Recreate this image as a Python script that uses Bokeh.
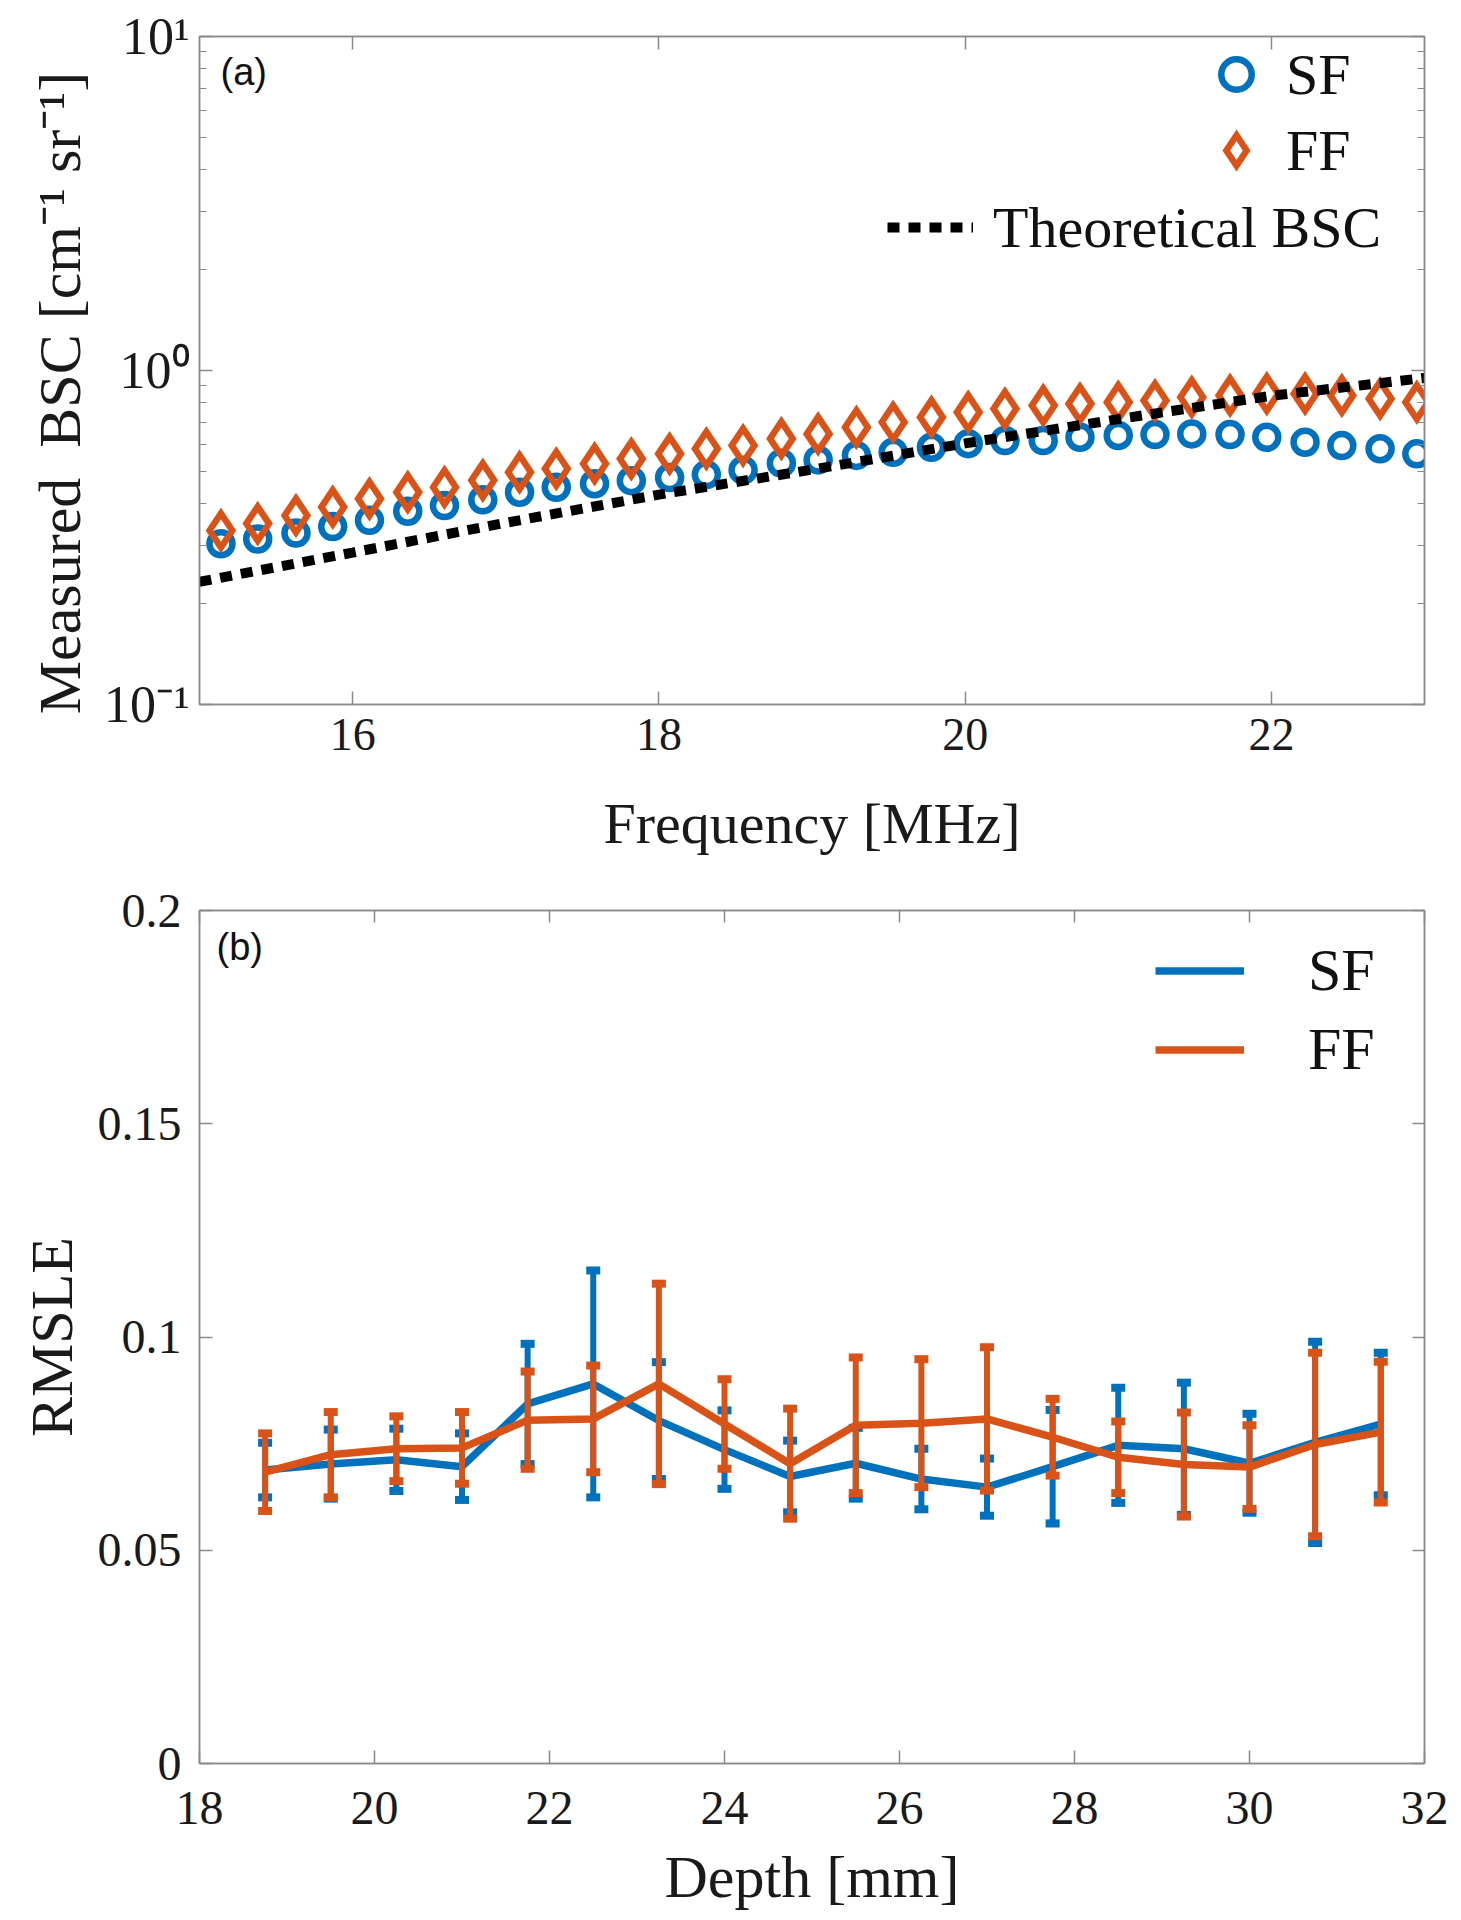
from bokeh.plotting import figure
from bokeh.layouts import column
from bokeh.models import (FixedTicker, LinearAxis, LogAxis, Legend, LegendItem, Label,
                          CustomJSTickFormatter)
from bokeh.embed import file_html
from bokeh.resources import INLINE

# ---------------- data: panel (a) ----------------
freq_mhz = [15.14, 15.38, 15.63, 15.87, 16.11, 16.36, 16.60, 16.85, 17.09, 17.33, 17.58,
            17.82, 18.07, 18.31, 18.55, 18.80, 19.04, 19.29, 19.53, 19.78, 20.02, 20.26,
            20.51, 20.75, 21.00, 21.24, 21.48, 21.73, 21.97, 22.22, 22.46, 22.71, 22.95]
sf_bsc = [0.303, 0.313, 0.326, 0.341, 0.356, 0.379, 0.394, 0.410, 0.432, 0.447, 0.458,
          0.468, 0.478, 0.488, 0.503, 0.528, 0.540, 0.557, 0.569, 0.589, 0.604, 0.617,
          0.617, 0.631, 0.639, 0.643, 0.646, 0.643, 0.631, 0.610, 0.596, 0.583, 0.563]
ff_bsc = [0.332, 0.348, 0.368, 0.390, 0.413, 0.432, 0.447, 0.469, 0.496, 0.508, 0.526,
          0.544, 0.563, 0.583, 0.596, 0.625, 0.646, 0.676, 0.700, 0.725, 0.750, 0.768,
          0.786, 0.795, 0.804, 0.813, 0.832, 0.842, 0.852, 0.852, 0.842, 0.823, 0.804]
theory_freq = [15.0, 16.0, 17.0, 18.0, 19.0, 20.0, 21.0, 22.0, 23.0]
theory_bsc = [0.233, 0.285, 0.350, 0.425, 0.505, 0.605, 0.715, 0.840, 0.950]
freq_ticks = [16, 18, 20, 22]
bsc_ticks = [0.1, 1, 10]
bsc_minor_ticks = [0.2, 0.3, 0.4, 0.5, 0.6, 0.7, 0.8, 0.9, 2, 3, 4, 5, 6, 7, 8, 9]

# ---------------- data: panel (b) ----------------
depth_mm = [18.75, 19.5, 20.25, 21.0, 21.75, 22.5, 23.25, 24.0, 24.75, 25.5, 26.25,
            27.0, 27.75, 28.5, 29.25, 30.0, 30.75, 31.5]
sf_rmsle = [0.0688, 0.0702, 0.0712, 0.0696, 0.0843, 0.0890, 0.0804, 0.0736, 0.0673,
            0.0704, 0.0667, 0.0648, 0.0696, 0.0746, 0.0738, 0.0704, 0.0753, 0.0796]
sf_rmsle_err = [0.0064, 0.0081, 0.0073, 0.0078, 0.0141, 0.0266, 0.0137, 0.0092, 0.0084,
                0.0083, 0.0071, 0.0067, 0.0133, 0.0135, 0.0155, 0.0116, 0.0236, 0.0167]
ff_rmsle = [0.0683, 0.0724, 0.0738, 0.0740, 0.0805, 0.0808, 0.0890, 0.0796, 0.0703,
            0.0793, 0.0798, 0.0808, 0.0765, 0.0718, 0.0701, 0.0695, 0.0748, 0.0777]
ff_rmsle_err = [0.0091, 0.0100, 0.0076, 0.0084, 0.0114, 0.0125, 0.0235, 0.0105, 0.0129,
                0.0159, 0.0150, 0.0168, 0.0090, 0.0084, 0.0122, 0.0098, 0.0215, 0.0165]
depth_ticks = [18, 20, 22, 24, 26, 28, 30, 32]
rmsle_ticks = [0, 0.05, 0.1, 0.15, 0.2]

BLUE = "#0072BD"
ORANGE = "#D95319"
AXIS_GRAY = "#8a8a8a"
SERIF = "Liberation Serif"
SANS = "Liberation Sans"

blank_fmt = CustomJSTickFormatter(code="return '';")


def style_axis(ax, tick_size, label_size, labels=True, minor=False, tick_len=13):
    ax.axis_line_color = AXIS_GRAY
    ax.axis_line_width = 1.5
    ax.major_tick_line_color = AXIS_GRAY
    ax.major_tick_line_width = 1.5
    ax.major_tick_in = tick_len
    ax.major_tick_out = 0
    if minor:
        ax.minor_tick_line_color = AXIS_GRAY
        ax.minor_tick_line_width = 1.2
        ax.minor_tick_in = 7
        ax.minor_tick_out = 0
    else:
        ax.minor_tick_line_color = None
    ax.major_label_text_font = SERIF
    ax.major_label_text_color = "#1a1a1a"
    ax.major_label_text_line_height = 1.0
    ax.axis_label_text_font = SERIF
    ax.axis_label_text_font_style = "normal"
    ax.axis_label_text_color = "#1a1a1a"
    ax.axis_label_text_line_height = 1.0
    if labels:
        ax.major_label_text_font_size = f"{tick_size}px"
        ax.axis_label_text_font_size = f"{label_size}px"
    else:
        ax.formatter = blank_fmt
        ax.major_label_text_font_size = "1px"
        ax.major_label_standoff = 0


log_fmt = CustomJSTickFormatter(code="""
const m = {"0.1": "10\u207b\u00b9", "1": "10\u2070", "10": "10\u00b9"};
const k = String(tick);
return (k in m) ? m[k] : "";
""")
plain_fmt = CustomJSTickFormatter(code="return String(tick);")

# ---------------- panel (a) ----------------
p1 = figure(width=1461, height=861, x_range=(15, 23), y_range=(0.1, 10), y_axis_type="log",
            output_backend="svg", toolbar_location=None,
            min_border_left=195, min_border_right=29, min_border_top=36, min_border_bottom=157)
p1.xgrid.visible = False
p1.ygrid.visible = False
p1.outline_line_color = AXIS_GRAY
p1.outline_line_width = 1.5
p1.background_fill_color = "white"
p1.border_fill_color = "white"

p1.xaxis.ticker = FixedTicker(ticks=freq_ticks)
p1.xaxis.axis_label = "Frequency [MHz]"
p1.xaxis.major_label_standoff = 14
p1.xaxis.axis_label_standoff = 38
style_axis(p1.xaxis[0], 46, 58)
p1.yaxis.ticker = FixedTicker(ticks=bsc_ticks, minor_ticks=bsc_minor_ticks)
p1.yaxis.formatter = log_fmt
p1.yaxis.axis_label = "Measured\u00a0\u00a0BSC [cm\u207b\u00b9\u00a0sr\u207b\u00b9]\u00a0\u00a0\u00a0"
p1.yaxis.major_label_standoff = 10
p1.yaxis.axis_label_standoff = 8
style_axis(p1.yaxis[0], 52, 60, minor=True)

top1 = LinearAxis(ticker=FixedTicker(ticks=freq_ticks))
style_axis(top1, 44, 58, labels=False)
p1.add_layout(top1, "above")
right1 = LogAxis(ticker=FixedTicker(ticks=bsc_ticks, minor_ticks=bsc_minor_ticks))
style_axis(right1, 44, 58, labels=False, minor=True)
p1.add_layout(right1, "right")

r_sf = p1.scatter(freq_mhz, sf_bsc, marker="circle", size=23, line_width=6.5,
                  line_color=BLUE, fill_color=None)
r_ff = p1.scatter(freq_mhz, ff_bsc, marker="diamond", size=34, line_width=6.5,
                  line_join="miter", line_color=ORANGE, fill_color=None)
r_th = p1.line(theory_freq, theory_bsc, line_color="black", line_width=10, line_dash="12 9")

leg1 = Legend(items=[LegendItem(label="SF", renderers=[r_sf]),
                     LegendItem(label="FF", renderers=[r_ff])],
              location=(998, 516), orientation="vertical",
              glyph_width=78, glyph_height=76, label_height=76, spacing=0, padding=0,
              label_standoff=11, border_line_color=None, background_fill_alpha=0,
              label_text_font=SERIF, label_text_font_size="58px", label_text_color="#111111")
leg2 = Legend(items=[LegendItem(label="Theoretical BSC", renderers=[r_th])],
              location=(688, 439), orientation="vertical",
              glyph_width=86, glyph_height=76, label_height=76, spacing=0, padding=0,
              label_standoff=20, border_line_color=None, background_fill_alpha=0,
              label_text_font=SERIF, label_text_font_size="58px", label_text_color="#111111")
p1.add_layout(leg1, "center")
p1.add_layout(leg2, "center")
p1.add_layout(Label(x=21, y=654, x_units="screen", y_units="screen", text="(a)",
                    text_font=SANS, text_font_size="38px", text_color="#111111",
                    text_baseline="top", text_align="left"))

# ---------------- panel (b) ----------------
p2 = figure(width=1461, height=1059, x_range=(18, 32), y_range=(0, 0.2),
            output_backend="svg", toolbar_location=None,
            min_border_left=199, min_border_right=37, min_border_top=49, min_border_bottom=157)
p2.xgrid.visible = False
p2.ygrid.visible = False
p2.outline_line_color = AXIS_GRAY
p2.outline_line_width = 1.5
p2.background_fill_color = "white"
p2.border_fill_color = "white"

p2.xaxis.ticker = FixedTicker(ticks=depth_ticks)
p2.xaxis.formatter = plain_fmt
p2.xaxis.axis_label = "Depth [mm]"
p2.xaxis.major_label_standoff = 28
p2.xaxis.axis_label_standoff = 17
style_axis(p2.xaxis[0], 48, 60)
p2.yaxis.ticker = FixedTicker(ticks=rmsle_ticks)
p2.yaxis.formatter = plain_fmt
p2.yaxis.axis_label = "RMSLE"
p2.yaxis.major_label_standoff = 18
p2.yaxis.axis_label_standoff = 10
style_axis(p2.yaxis[0], 48, 60)

top2 = LinearAxis(ticker=FixedTicker(ticks=depth_ticks))
style_axis(top2, 48, 60, labels=False, tick_len=12)
p2.add_layout(top2, "above")
right2 = LinearAxis(ticker=FixedTicker(ticks=rmsle_ticks))
style_axis(right2, 48, 60, labels=False, tick_len=12)
p2.add_layout(right2, "right")

sf_up = [m + e for m, e in zip(sf_rmsle, sf_rmsle_err)]
sf_lo = [m - e for m, e in zip(sf_rmsle, sf_rmsle_err)]
ff_up = [m + e for m, e in zip(ff_rmsle, ff_rmsle_err)]
ff_lo = [m - e for m, e in zip(ff_rmsle, ff_rmsle_err)]

p2.segment(depth_mm, sf_lo, depth_mm, sf_up, line_color=BLUE, line_width=6)
p2.rect(depth_mm, sf_up, width=14, height=8, width_units="screen", height_units="screen",
        fill_color=BLUE, line_color=None)
p2.rect(depth_mm, sf_lo, width=14, height=8, width_units="screen", height_units="screen",
        fill_color=BLUE, line_color=None)
l_sf = p2.line(depth_mm, sf_rmsle, line_color=BLUE, line_width=7.5)

p2.segment(depth_mm, ff_lo, depth_mm, ff_up, line_color=ORANGE, line_width=6)
p2.rect(depth_mm, ff_up, width=14, height=8, width_units="screen", height_units="screen",
        fill_color=ORANGE, line_color=None)
p2.rect(depth_mm, ff_lo, width=14, height=8, width_units="screen", height_units="screen",
        fill_color=ORANGE, line_color=None)
l_ff = p2.line(depth_mm, ff_rmsle, line_color=ORANGE, line_width=7.5)

leg3 = Legend(items=[LegendItem(label="SF", renderers=[l_sf]),
                     LegendItem(label="FF", renderers=[l_ff])],
              location=(956, 674), orientation="vertical",
              glyph_width=89, glyph_height=79, label_height=79, spacing=0, padding=0,
              label_standoff=64, border_line_color=None, background_fill_alpha=0,
              label_text_font=SERIF, label_text_font_size="60px", label_text_color="#111111")
p2.add_layout(leg3, "center")
p2.add_layout(Label(x=17, y=838, x_units="screen", y_units="screen", text="(b)",
                    text_font=SANS, text_font_size="38px", text_color="#111111",
                    text_baseline="top", text_align="left"))

layout = column(p1, p2)
open("out.html", "w").write(file_html(layout, INLINE))
